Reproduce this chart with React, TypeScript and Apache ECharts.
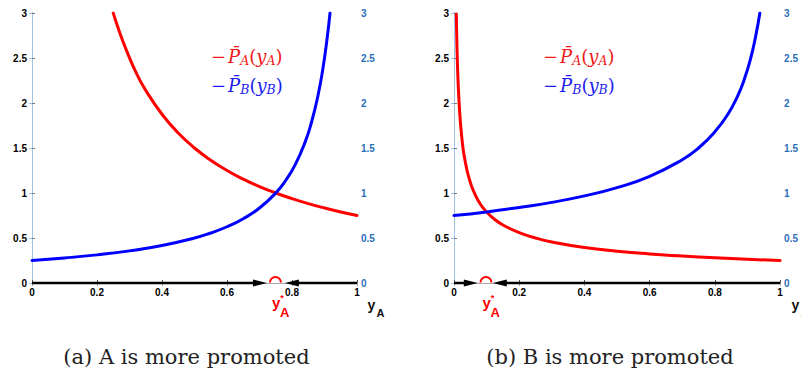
import React, { useEffect, useRef } from 'react';
import * as echarts from 'echarts';

// ---- data ----
// Panel (a): A is more promoted
const redAX = [0.25, 0.27, 0.29, 0.32, 0.35, 0.4, 0.45, 0.5, 0.55, 0.6, 0.65, 0.7, 0.75, 0.8, 0.85, 0.9, 0.95, 1.0];
const redAY = [3.0, 2.78, 2.59, 2.34, 2.14, 1.875, 1.667, 1.5, 1.364, 1.25, 1.154, 1.071, 1.0, 0.9375, 0.882, 0.833, 0.789, 0.75];
const blueAX = [0, 0.1, 0.2, 0.3, 0.4, 0.5, 0.55, 0.6, 0.65, 0.7, 0.75, 0.78, 0.81, 0.84, 0.86, 0.88, 0.895, 0.907, 0.917];
const blueAY = [0.25, 0.278, 0.3125, 0.357, 0.417, 0.5, 0.556, 0.625, 0.714, 0.833, 1.0, 1.136, 1.316, 1.5625, 1.786, 2.083, 2.381, 2.688, 3.0];
const eqA = 0.749;
const arrowsA = [[0, 0.723], [1, 0.778]]; // [from, tip]

// Panel (b): B is more promoted
const redBX = [0.007, 0.009, 0.012, 0.016, 0.02, 0.025, 0.03, 0.04, 0.05, 0.06, 0.08, 0.1, 0.12, 0.15, 0.2, 0.25, 0.3, 0.4, 0.5, 0.6, 0.7, 0.8, 0.9, 1.0];
const redBY = [2.99, 2.64, 2.28, 1.98, 1.77, 1.58, 1.44, 1.25, 1.12, 1.02, 0.88, 0.79, 0.72, 0.645, 0.56, 0.5, 0.456, 0.395, 0.354, 0.323, 0.3, 0.28, 0.264, 0.25];
const blueBX = [0, 0.1, 0.2, 0.3, 0.4, 0.5, 0.6, 0.7, 0.75, 0.8, 0.84, 0.87, 0.89, 0.91, 0.925, 0.938];
const blueBY = [0.75, 0.79, 0.84, 0.896, 0.968, 1.06, 1.186, 1.37, 1.5, 1.68, 1.875, 2.08, 2.26, 2.5, 2.74, 3.0];
const eqB = 0.098;
const arrowsB = [[0, 0.073], [1, 0.119]];

const captions = ['(a) A is more promoted', '(b) B is more promoted'];

// ---- styles ----
const RED = '#ff0000';
const BLUE = '#0000ff';
const LEG_RED = '#f01818';
const LEG_BLUE = '#1c1cf0';
const AXBLUE = '#2a70b8';
const SANS = '"Liberation Sans", Arial, sans-serif';
const SERIF = '"DejaVu Serif", serif';

const grids = [
  { left: 32, top: 13, width: 325, height: 270 },
  { left: 454, top: 13, width: 327, height: 270 },
];

const zip = (xs: number[], ys: number[]) => xs.map((x, i) => [x, ys[i]]);

const tickLabel = { fontSize: 10, fontWeight: 'bold', color: '#000', fontFamily: SANS };

function bottomX(g: number) {
  return {
    type: 'value', gridIndex: g, min: 0, max: 1, interval: 0.2, position: 'bottom',
    axisLine: { lineStyle: { color: '#222', width: 1 } },
    axisTick: { inside: true, length: 3, lineStyle: { color: '#555' } },
    axisLabel: { margin: 4, ...tickLabel },
    splitLine: { show: false },
  };
}
function topX(g: number) {
  return {
    type: 'value', gridIndex: g, min: 0, max: 1, interval: 0.2, position: 'top',
    axisLine: { lineStyle: { color: '#a8a8a8', width: 1 } },
    axisTick: { inside: true, length: 3, lineStyle: { color: '#a8a8a8' } },
    axisLabel: { show: false },
    splitLine: { show: false },
  };
}
function leftY(g: number) {
  return {
    type: 'value', gridIndex: g, min: 0, max: 3, interval: 0.5, position: 'left',
    axisLine: { show: true, lineStyle: { color: '#555', width: 1 } },
    axisTick: { show: true, inside: true, length: 3, lineStyle: { color: '#777' } },
    axisLabel: { margin: 5, ...tickLabel },
    splitLine: { show: false },
  };
}
function rightY(g: number) {
  return {
    type: 'value', gridIndex: g, min: 0, max: 3, interval: 0.5, position: 'right',
    axisLine: { show: true, lineStyle: { color: '#9fc3e6', width: 1 } },
    axisTick: { show: true, inside: true, length: 3, lineStyle: { color: '#9fc3e6' } },
    axisLabel: { margin: 4, ...tickLabel, color: AXBLUE },
    splitLine: { show: false },
  };
}

function curve(g: number, xs: number[], ys: number[], color: string) {
  return {
    type: 'line', xAxisIndex: g * 2, yAxisIndex: g * 2,
    data: zip(xs, ys), smooth: 0.5,
    showSymbol: false, symbol: 'none', clip: true,
    lineStyle: { color, width: 3, cap: 'round', join: 'round' }, z: 2,
  };
}

function arrowSeries(g: number, arrows: number[][]) {
  return {
    type: 'custom', xAxisIndex: g * 2, yAxisIndex: g * 2, clip: false, z: 4,
    data: arrows,
    renderItem: (_p: any, api: any) => {
      const from = api.coord([api.value(0), 0]);
      const tip = api.coord([api.value(1), 0]);
      const dir = tip[0] > from[0] ? 1 : -1;
      const L = 14, W = 3.5;
      return {
        type: 'group',
        children: [
          { type: 'line', shape: { x1: from[0], y1: from[1], x2: tip[0] - dir * L * 0.6, y2: tip[1] }, style: { stroke: '#000', lineWidth: 2.5 } },
          { type: 'polygon', shape: { points: [[tip[0], tip[1]], [tip[0] - dir * L, tip[1] - W], [tip[0] - dir * L, tip[1] + W]] }, style: { fill: '#000' } },
        ],
      };
    },
  };
}

function eqSeries(g: number, eq: number) {
  return {
    type: 'custom', xAxisIndex: g * 2, yAxisIndex: g * 2, clip: false, z: 5,
    data: [[eq, 0]],
    renderItem: (_p: any, api: any) => {
      const p = api.coord([api.value(0), 0]);
      return {
        type: 'group',
        children: [
          { type: 'arc', shape: { cx: p[0], cy: p[1] - 0.5, r: 5.5, startAngle: Math.PI, endAngle: 2 * Math.PI, clockwise: true }, style: { stroke: RED, lineWidth: 2, fill: null } },
          { type: 'text', x: p[0] - 3.5, y: p[1] + 19.5, style: { text: 'y', fill: RED, fontSize: 15, fontWeight: 'bold', fontFamily: SANS, align: 'left', verticalAlign: 'middle' } },
          { type: 'text', x: p[0] + 4.5, y: p[1] + 29.5, style: { text: 'A', fill: RED, fontSize: 13, fontWeight: 'bold', fontFamily: SANS, align: 'left', verticalAlign: 'middle' } },
          { type: 'text', x: p[0] + 6.5, y: p[1] + 14.5, style: { text: '*', fill: RED, fontSize: 9, fontWeight: 'bold', fontFamily: SANS, align: 'center', verticalAlign: 'middle' } },
        ],
      };
    },
  };
}

const legendRich = (color: string) => ({
  m: { fontFamily: SERIF, fontSize: 18, fill: color, padding: [0, 2, 0, 0] },
  n: { fontFamily: SERIF, fontSize: 18, fill: color },
  i: { fontFamily: SERIF, fontSize: 18, fontStyle: 'italic', fill: color },
  s: { fontFamily: SERIF, fontSize: 12.5, fontStyle: 'italic', fill: color, padding: [8, 0, 0, 0] },
});

function legendText(x: number, y: number, letter: string, color: string) {
  return {
    type: 'text', x, y, z: 10,
    style: {
      text: `{m|\u2212}{i|P\u0304}{s|${letter}}{n|(}{i|y}{s|${letter}}{n|)}`,
      rich: legendRich(color),
      fill: color,
      verticalAlign: 'middle', align: 'left',
    },
  };
}

function axisName(g: number) {
  const gx = grids[g].left + grids[g].width;
  const gy = grids[g].top + grids[g].height;
  return [
    { type: 'text', x: gx + 10.5, y: gy + 22.4, style: { text: 'y', fill: '#111', fontSize: 14, fontWeight: 'bold', fontFamily: SANS, align: 'left', verticalAlign: 'middle' } },
    { type: 'text', x: gx + 19.5, y: gy + 30.2, style: { text: 'A', fill: '#111', fontSize: 11, fontWeight: 'bold', fontFamily: SANS, align: 'left', verticalAlign: 'middle' } },
  ];
}

export default function App() {
  const ref = useRef<HTMLDivElement>(null);
  useEffect(() => {
    if (!ref.current) return;
    const chart = echarts.init(ref.current, null, { renderer: 'svg' });
    const option: any = {
      animation: false,
      backgroundColor: '#ffffff',
      grid: grids,
      xAxis: [bottomX(0), topX(0), bottomX(1), topX(1)],
      yAxis: [leftY(0), rightY(0), leftY(1), rightY(1)],
      series: [
        curve(0, redAX, redAY, RED),
        curve(0, blueAX, blueAY, BLUE),
        curve(1, redBX, redBY, RED),
        curve(1, blueBX, blueBY, BLUE),
        arrowSeries(0, arrowsA),
        arrowSeries(1, arrowsB),
        eqSeries(0, eqA),
        eqSeries(1, eqB),
      ],
      graphic: [
        legendText(211, 56.5, 'A', LEG_RED),
        legendText(211, 85.5, 'B', LEG_BLUE),
        legendText(543, 56.5, 'A', LEG_RED),
        legendText(543, 85.5, 'B', LEG_BLUE),
        ...axisName(0),
        ...axisName(1),
        { type: 'text', x: 186.5, y: 357, style: { text: captions[0], fill: '#222', fontSize: 21, fontFamily: SERIF, align: 'center', verticalAlign: 'middle' } },
        { type: 'text', x: 610, y: 357, style: { text: captions[1], fill: '#222', fontSize: 21, fontFamily: SERIF, align: 'center', verticalAlign: 'middle' } },
      ],
    };
    chart.setOption(option);
    return () => chart.dispose();
  }, []);
  return <div ref={ref} style={{ position: 'absolute', left: 0, top: 0, width: 801, height: 375, background: '#fff' }} />;
}
